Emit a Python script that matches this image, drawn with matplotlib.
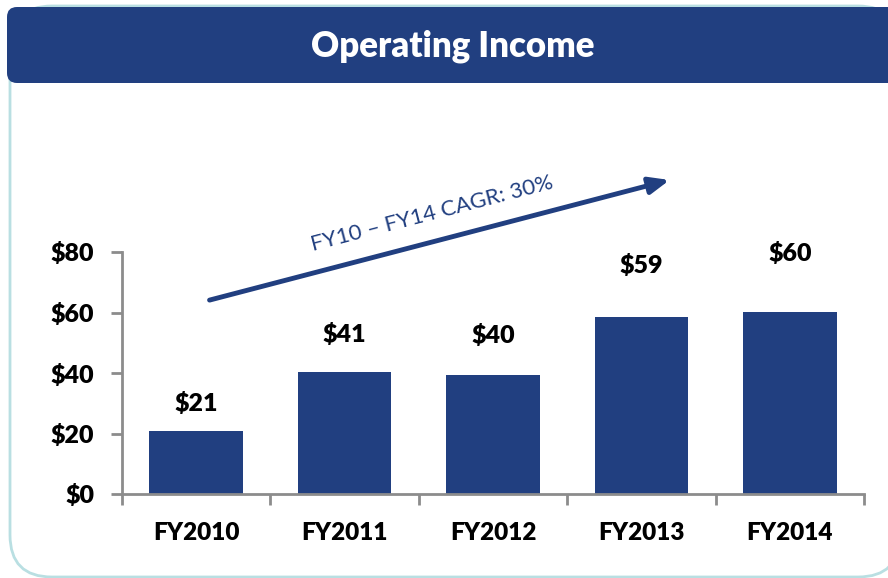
import matplotlib.pyplot as plt
from matplotlib.patches import FancyBboxPatch

# datos
years = ['FY2010', 'FY2011', 'FY2012', 'FY2013', 'FY2014']
income = [20.8, 40.4, 39.4, 58.6, 60.2]
income_labels = ['$21', '$41', '$40', '$59', '$60']
y_ticks = [0, 20, 40, 60, 80]
y_tick_labels = ['$0', '$20', '$40', '$60', '$80']
cagr_text = 'FY10 \u2013 FY14 CAGR: 30%'

navy = '#213f80'
teal = '#b9dfe2'
plt.rcParams['font.family'] = ['Lato', 'DejaVu Sans']
bold = 'heavy'

fig = plt.figure(figsize=(8.88, 5.78), dpi=100)

# marco exterior y cabecera (en pulgadas para esquinas redondas)
frame = FancyBboxPatch((0.10, 0.01), 8.9, 5.71,
                       boxstyle='round,pad=0,rounding_size=0.42',
                       transform=fig.dpi_scale_trans, facecolor='white',
                       edgecolor=teal, linewidth=2, zorder=-2)
fig.patches.append(frame)
header = FancyBboxPatch((0.07, 4.95), 9.2, 0.76,
                        boxstyle='round,pad=0,rounding_size=0.10',
                        transform=fig.dpi_scale_trans, facecolor=navy,
                        edgecolor='none', zorder=-1)
fig.patches.append(header)
fig.text(453 / 888, 532 / 578, 'Operating Income', color='white', fontsize=25,
         fontweight=bold, ha='center', va='center')

ax = fig.add_axes([122 / 888, 84 / 578, 742 / 888, 242 / 578])
ax.set_zorder(2)
ax.set_facecolor('none')
x = range(len(years))
ax.bar(x, income, width=0.63, color=navy)
ax.set_xlim(-0.5, len(years) - 0.5)
ax.set_ylim(0, 80)

# etiquetas de valor
offsets = [20, 27, 28, 37, 42]
for i, (v, lab) in enumerate(zip(income, income_labels)):
    ax.annotate(lab, (i, v), xytext=(0, offsets[i]), textcoords='offset points',
                ha='center', va='center', fontsize=18, fontweight=bold,
                annotation_clip=False)

ax.set_yticks(y_ticks)
ax.set_yticklabels(y_tick_labels, fontsize=18, fontweight=bold)
ax.set_xticks(list(x))
ax.set_xticklabels(years, fontsize=17.5, fontweight=bold)
ax.tick_params(axis='x', length=0, pad=20)
ax.tick_params(axis='y', length=8, width=2, color='#8c8c8c', pad=12)
ax.set_xticks([i - 0.5 for i in range(len(years) + 1)], minor=True)
ax.tick_params(axis='x', which='minor', length=8, width=2, color='#8c8c8c')
for s in ['top', 'right']:
    ax.spines[s].set_visible(False)
for s in ['left', 'bottom']:
    ax.spines[s].set_color('#8c8c8c')
    ax.spines[s].set_linewidth(2)

# flecha CAGR
ax.annotate('', xy=(3.19, 103.8), xytext=(0.09, 64.1),
            arrowprops=dict(arrowstyle='-|>,head_length=1.2,head_width=0.5',
                            color=navy, lw=3.5, shrinkA=0, shrinkB=0),
            annotation_clip=False)
ax.text(1.59, 92.8, cagr_text, rotation=14.6, rotation_mode='anchor',
        ha='center', va='center', fontsize=16, color=navy, clip_on=False)

plt.savefig('out.png', dpi=100)
